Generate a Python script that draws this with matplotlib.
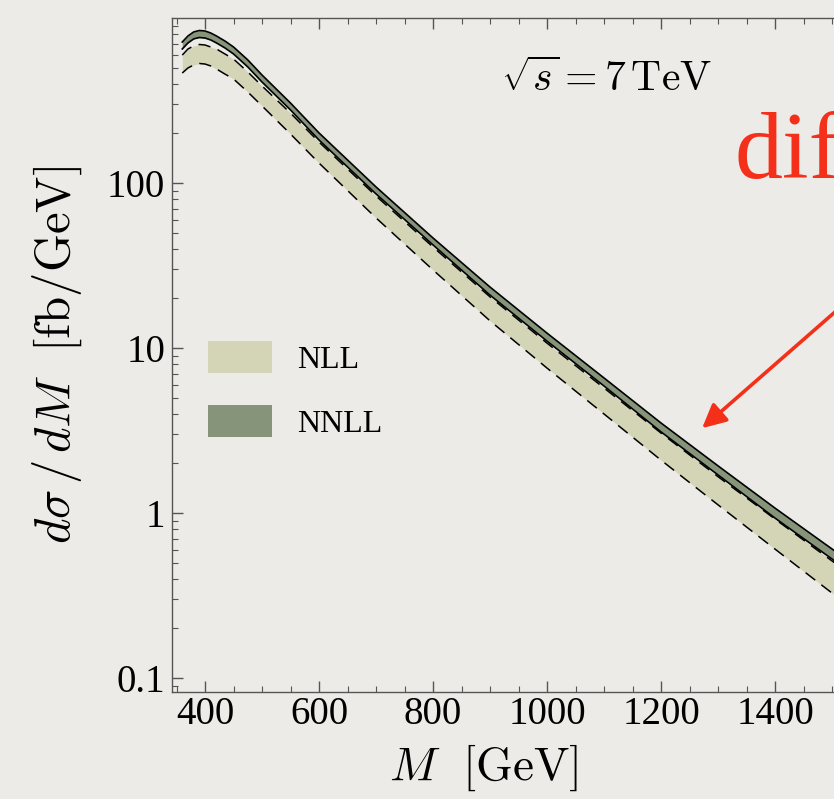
import matplotlib.pyplot as plt
from matplotlib.patches import Patch
from matplotlib.ticker import FixedLocator, FuncFormatter, LogLocator, MultipleLocator

plt.rcParams['font.family'] = ['Liberation Serif', 'DejaVu Serif']
plt.rcParams['mathtext.fontset'] = 'cm'

# invariant mass [GeV] and band edges [fb/GeV]
mass = [360, 370, 380, 390, 400, 410, 420, 435, 450, 475, 500, 550, 600, 700, 800,
        900, 1000, 1100, 1200, 1300, 1400, 1500, 1520]
nnll_hi = [715, 778, 823, 840, 834, 811, 778, 725, 667, 557, 451, 305, 201, 94.6, 46.4,
           23.4, 12.3, 6.58, 3.51, 1.93, 1.07, 0.605, 0.541]
nnll_lo = [649, 706, 747, 762, 756, 736, 706, 658, 605, 505, 409, 277, 182, 85.8, 42.1,
           20.9, 11.0, 5.88, 3.10, 1.70, 0.931, 0.526, 0.470]
nll_hi = [596, 649, 677, 691, 686, 667, 649, 605, 564, 471, 387, 265, 177, 83.4, 40.9,
          20.4, 10.7, 5.72, 3.05, 1.66, 0.918, 0.512, 0.458]
nll_lo = [464, 498, 519, 530, 526, 512, 491, 457, 427, 356, 293, 198, 132, 61.4, 29.7,
          14.6, 7.55, 3.98, 2.09, 1.12, 0.604, 0.327, 0.289]

x_ticks = [400, 600, 800, 1000, 1200, 1400, 1600, 1800, 2000]
x_labeled = [400, 600, 800, 1000, 1200, 1400]
y_ticks = [0.1, 1, 10, 100]
labels = ["NLL", "NNLL"]

bg = '#ECEBE7'
c_nll = '#D4D4B6'
c_nnll = '#86957A'
red = '#F4301A'

W, H = 834, 799
fig = plt.figure(figsize=(W / 100, H / 100), dpi=100, facecolor=bg)
# axes run past the right edge of the picture (the reference is cropped there)
ax = fig.add_axes([172 / W, 1 - 692 / H, (1117 - 172) / W, (692 - 18) / H])
ax.set_facecolor(bg)

ax.fill_between(mass, nll_lo, nll_hi, color=c_nll, lw=0, zorder=1)
ax.plot(mass, nll_hi, color='black', lw=1.1, dashes=(8, 5), zorder=2)
ax.plot(mass, nll_lo, color='black', lw=1.1, dashes=(8, 5), zorder=2)
ax.fill_between(mass, nnll_lo, nnll_hi, color=c_nnll, lw=0, zorder=3)
ax.plot(mass, nnll_hi, color='black', lw=1.2, zorder=4)
ax.plot(mass, nnll_lo, color='black', lw=1.2, zorder=4)

ax.set_yscale('log')
ax.set_xlim(342, 2000)
ax.set_ylim(0.0822, 1000)

ax.xaxis.set_major_locator(FixedLocator(x_ticks))
ax.xaxis.set_major_formatter(FuncFormatter(lambda v, p: f"{v:g}" if v in x_labeled else ""))
ax.xaxis.set_minor_locator(MultipleLocator(50))
ax.yaxis.set_major_locator(FixedLocator(y_ticks))
ax.yaxis.set_major_formatter(FuncFormatter(lambda v, p: f"{v:g}"))
ax.yaxis.set_minor_locator(LogLocator(subs=range(2, 10)))
ax.tick_params(which='both', direction='in', top=True, right=True, colors='#555555', labelcolor='black')
ax.tick_params(which='major', length=8, width=1)
ax.tick_params(which='minor', length=4.5, width=0.8)
ax.tick_params(axis='x', labelsize=28, pad=3)
ax.tick_params(axis='y', labelsize=28, pad=5)
for s in ax.spines.values():
    s.set_color('#555555')
    s.set_linewidth(1)

ax.set_xlabel(r'$M\ \ [\mathrm{GeV}]$', fontsize=34)
ax.xaxis.set_label_coords((484 - 172) / 945, -(743 - 692) / 674)
ax.set_ylabel(r'$d\sigma\,/\,dM\ \ [\mathrm{fb/GeV}]$', fontsize=35)
ax.yaxis.set_label_coords(-(172 - 84) / 945, 0.5)

fig.text(606 / W, 1 - 80 / H, r'$\sqrt{s} = 7\,\mathrm{TeV}$', fontsize=30, ha='center', va='center')

handles = [Patch(facecolor=c_nll, edgecolor='none'), Patch(facecolor=c_nnll, edgecolor='none')]
ax.legend(handles, labels, loc='upper left', bbox_to_anchor=(208 / W, 1 - 341 / H),
          bbox_transform=fig.transFigure, frameon=False, fontsize=23, handlelength=2.0,
          handleheight=1.15, handletextpad=0.8, labelspacing=0.95, borderpad=0, borderaxespad=0)

fig.text(735 / W, 1 - 178 / H, 'diff', color=red, fontsize=69, va='baseline')
ax.annotate('', xy=(700 / W, 1 - 430 / H), xytext=(875 / W, 1 - 277 / H),
            xycoords='figure fraction', textcoords='figure fraction',
            arrowprops=dict(arrowstyle='-|>', color=red, lw=2.6, mutation_scale=36))

fig.savefig('out.png', dpi=100, facecolor=bg)
